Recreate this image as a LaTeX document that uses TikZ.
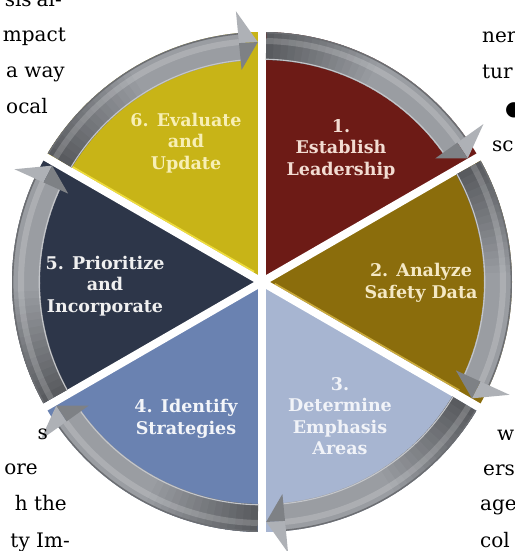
\documentclass[tikz,border=0pt]{standalone}
\usepackage{fontspec}
\setmainfont{DejaVu Serif}
\newfontfamily\symfnt{DejaVu Sans}
\definecolor{wA}{HTML}{6D1B16}
\definecolor{wB}{HTML}{8B6D0C}
\definecolor{wC}{HTML}{A7B5D1}
\definecolor{wD}{HTML}{6A82B1}
\definecolor{wE}{HTML}{2D3649}
\definecolor{wF}{HTML}{C8B417}
\definecolor{tA}{HTML}{F2DCD2}
\definecolor{tB}{HTML}{F4E8C4}
\definecolor{tC}{HTML}{F1F3F8}
\definecolor{tD}{HTML}{F3F5F9}
\definecolor{tE}{HTML}{F0F0F0}
\definecolor{tF}{HTML}{F7EFB5}
\definecolor{hiB}{HTML}{C9A93A}
\definecolor{hiF}{HTML}{EEDC3C}
\definecolor{bandlight}{HTML}{9A9DA2}
\definecolor{banddark}{HTML}{525458}
\definecolor{bandedge}{HTML}{6C6E72}
\definecolor{bandhi}{HTML}{C4C6CA}
\definecolor{headlight}{HTML}{AEB1B6}
\definecolor{headdark}{HTML}{7E8185}
\newcommand\labelfnt{\fontsize{17.5}{21.5}\selectfont\bfseries}
\newcommand\bodyfnt{\fontsize{20}{20}\selectfont}
\newcommand\mkband[2]{%
  \pgfmathsetmacro\bS{#1-1}%
  \pgfmathsetmacro\bE{#2+5.5}%
  \pgfmathsetmacro\bT{#2+1}%
  \foreach \i in {0,...,29}{%
    \pgfmathsetmacro\aA{\bS-(\bS-\bE)*\i/30}%
    \pgfmathsetmacro\aB{\bS-(\bS-\bE)*(\i+1)/30-0.4}%
    \pgfmathtruncatemacro\pc{min(100,10+\i*6)}%
    \colorlet{bandc}{bandlight!\pc!banddark}%
    \fill[bandc] (\aA:222) arc[start angle=\aA,end angle=\aB,radius=222pt] -- (\aB:250) arc[start angle=\aB,end angle=\aA,radius=250pt] -- cycle;%
  }%
  \draw[white,opacity=0.18,line width=6pt] (\bS:241) arc[start angle=\bS,end angle=\bE,radius=241pt];%
  \draw[bandedge,line width=1.4pt] (\bS:249.3) arc[start angle=\bS,end angle=\bE,radius=249.3pt];%
  \draw[bandhi,line width=1.1pt] (\bS:222.8) arc[start angle=\bS,end angle=\bE,radius=222.8pt];%
  \fill[headlight] (\bE:272) -- (\bT:240) -- (\bE:240) -- cycle;%
  \fill[headdark] (\bE:240) -- (\bT:240) -- (\bE:213) -- cycle;%
}
\begin{document}
\begin{tikzpicture}[x=1pt,y=1pt,
  lbl/.style={font=\labelfnt, align=center, inner sep=0pt},
  bodytxt/.style={font=\bodyfnt, inner sep=0pt, text=black}]
\useasboundingbox (0,0) rectangle (514,551);
\fill[white] (0,0) rectangle (514,551);
\begin{scope}[shift={(262,269)}]
  % wedges
  \fill[wA] (0,0) -- (90:250) arc[start angle=90,end angle=30,radius=250pt] -- cycle;
  \fill[wB] (0,0) -- (30:250) arc[start angle=30,end angle=-30,radius=250pt] -- cycle;
  \fill[wC] (0,0) -- (-30:250) arc[start angle=-30,end angle=-90,radius=250pt] -- cycle;
  \fill[wD] (0,0) -- (-90:250) arc[start angle=-90,end angle=-150,radius=250pt] -- cycle;
  \fill[wE] (0,0) -- (-150:250) arc[start angle=-150,end angle=-210,radius=250pt] -- cycle;
  \fill[wF] (0,0) -- (150:250) arc[start angle=150,end angle=90,radius=250pt] -- cycle;
  % bevel highlights along some edges
  \draw[hiF,line width=1.6pt] ([shift={(60:5)}]150:12) -- ([shift={(60:5)}]150:225);
  \draw[hiB,line width=1.6pt] ([shift={(60:5)}]-30:12) -- ([shift={(60:5)}]-30:225);
  % separators
  \foreach \a in {90,30,-30,-90,-150,150}
    \draw[white,line width=8pt] (0,0) -- (\a:280);
  \fill[white] (0,0) circle[radius=7pt];
  % bands with arrows
  \mkband{90}{30}
  \mkband{30}{-30}
  \mkband{-30}{-90}
  \mkband{-90}{-150}
  \mkband{-150}{-210}
  \mkband{150}{90}
\end{scope}
% labels
\node[lbl, text=tA] (l1) at (341,402) {1.\\Establish\\Leadership};
\node[lbl, text=tB] (l2) at (421,268) {2. Analyze\\Safety Data};
\node[lbl, text=tC] (l3) at (340,135) {3.\\Determine\\Emphasis\\Areas};
\node[lbl, text=tD] (l4) at (186,132) {4. Identify\\Strategies};
\node[lbl, text=tE] (l5) at (105,265) {5. Prioritize\\and\\Incorporate};
\node[lbl, text=tF] (l6) at (186,408) {6. Evaluate\\and\\Update};
% surrounding page text fragments
\node[bodytxt, anchor=base east] (p1) at (62,544) {sis\hspace{5pt}al-};
\node[bodytxt, anchor=base east] (p2) at (66,509) {mpact};
\node[bodytxt, anchor=base east] (p3) at (65,473) {a way};
\node[bodytxt, anchor=base east] (p4) at (48,437) {ocal};
\node[bodytxt, anchor=base west] (q1) at (482,508) {ner};
\node[bodytxt, anchor=base west] (q2) at (482,472) {tur};
\node[bodytxt, anchor=base west, font=\symfnt\bodyfnt] (q3) at (505,435) {●};
\node[bodytxt, anchor=base west] (q4) at (492,399) {sc};
\node[bodytxt, anchor=base east] (r1) at (48,111) {s};
\node[bodytxt, anchor=base east] (r2) at (38,76) {ore};
\node[bodytxt, anchor=base east] (r3) at (67,40) {h the};
\node[bodytxt, anchor=base east] (r4) at (70,4) {ty Im-};
\node[bodytxt, anchor=base west] (u1) at (497,110) {w};
\node[bodytxt, anchor=base west] (u2) at (483,75) {ers};
\node[bodytxt, anchor=base west] (u3) at (480,40) {age};
\node[bodytxt, anchor=base west] (u4) at (480,4) {col};
\end{tikzpicture}
\end{document}
